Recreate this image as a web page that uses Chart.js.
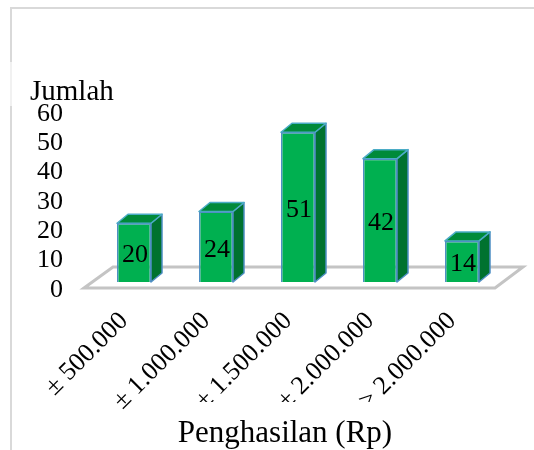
<!DOCTYPE html>
<html><head><meta charset="utf-8">
<style>
html,body{margin:0;padding:0;background:#fff;overflow:hidden}
#frame{position:absolute;left:10px;top:7px;width:524px;height:443px;border-left:2px solid #d9d9d9;border-top:2px solid #d9d9d9;box-sizing:border-box}
#fade{position:absolute;left:10px;top:62px;width:2px;height:44px;background:#f1f1f1}
#wrap{position:absolute;left:0;top:0;width:534px;height:450px}
</style>
<script src="https://cdn.jsdelivr.net/npm/chart.js@4"></script>
</head><body>
<div id="frame"></div><div id="fade"></div>
<div id="wrap"><canvas id="c" width="534" height="450"></canvas></div>
<script>
const categories = ['± 500.000','± 1.000.000','± 1.500.000','± 2.000.000','> 2.000.000'];
const jumlah = [20,24,51,42,14];
const yTicks = [0,10,20,30,40,50,60];
const yTitle = 'Jumlah';
const xTitle = 'Penghasilan (Rp)';
const FONT = '"Liberation Serif","Times New Roman",serif';

const box3d = {
  id:'box3d',
  beforeDatasetsDraw(chart){
    const {ctx,chartArea:a,scales:{y}}=chart;
    const y0=y.getPixelForValue(0);
    ctx.save();
    ctx.strokeStyle='#c4c4c4';ctx.lineWidth=3;ctx.lineJoin='miter';
    ctx.beginPath();
    ctx.moveTo(a.left-9,y0+6);ctx.lineTo(a.left+20,y0-15);
    ctx.lineTo(a.right+20,y0-15);ctx.lineTo(a.right-8,y0+6);ctx.closePath();
    ctx.fillStyle='#ffffff';ctx.fill();ctx.stroke();
    const dx=11,dy=9;
    chart.getDatasetMeta(0).data.forEach(b=>{
      const w=b.width/2,l=b.x-w,r=b.x+w,t=b.y,bt=b.base;
      ctx.lineWidth=1.5;ctx.strokeStyle='#4f8fc4';ctx.lineJoin='round';
      ctx.fillStyle='#00722f';
      ctx.beginPath();ctx.moveTo(r,t);ctx.lineTo(r+dx,t-dy);ctx.lineTo(r+dx,bt-dy);ctx.lineTo(r,bt);ctx.closePath();ctx.fill();ctx.stroke();
      ctx.fillStyle='#008a3a';ctx.strokeStyle='#4bacc6';
      ctx.beginPath();ctx.moveTo(l,t);ctx.lineTo(l+dx,t-dy);ctx.lineTo(r+dx,t-dy);ctx.lineTo(r,t);ctx.closePath();ctx.fill();ctx.stroke();
    });
    ctx.restore();
  },
  afterDatasetsDraw(chart){
    const {ctx}=chart;
    ctx.save();
    ctx.font='26px '+FONT;ctx.fillStyle='#000';ctx.textAlign='center';ctx.textBaseline='middle';
    chart.getDatasetMeta(0).data.forEach((b,i)=>{
      ctx.fillText(String(jumlah[i]),b.x+1,(b.y+b.base)/2+3);
    });
    ctx.restore();
  },
  afterDraw(chart){
    // the reference crops the feet of the last three tick labels
    const {ctx,chartArea:a}=chart;
    ctx.save();ctx.fillStyle='#fff';
    ctx.fillRect(a.left+87,402,a.width-87,18);
    ctx.restore();
  }
};

new Chart(document.getElementById('c'),{
  type:'bar',
  data:{labels:categories,datasets:[{data:jumlah,backgroundColor:'#00b050',borderColor:'#4f8fc4',borderWidth:1.5,barPercentage:0.83,categoryPercentage:0.5}]},
  plugins:[box3d],
  options:{
    responsive:false,animation:false,
    layout:{padding:{left:30,right:31,top:0,bottom:0}},
    plugins:{
      legend:{display:false},tooltip:{enabled:false},
      title:{display:true,text:yTitle,align:'start',color:'#000',font:{family:FONT,size:29,weight:'normal'},padding:{top:75,bottom:-4}}
    },
    scales:{
      y:{min:0,max:60,
        afterFit(s){s.width=63;},
        afterBuildTicks(s){s.ticks=yTicks.map(v=>({value:v}));},
        grid:{display:false},border:{display:false},
        ticks:{color:'#000',font:{family:FONT,size:26},labelOffset:8,padding:22,autoSkip:false}
      },
      x:{
        afterFit(s){s.height=168;},
        afterUpdate(s){
          const d=s.drawTitle.bind(s);
          s.drawTitle=()=>{const l=s.left,r=s.right;s.left-=13;s.right-=13;d();s.left=l;s.right=r;};
        },
        grid:{display:false},border:{display:false},
        ticks:{color:'#000',font:{family:FONT,size:26},maxRotation:45,minRotation:45,padding:16,labelOffset:-10,autoSkip:false},
        title:{display:true,text:xTitle,color:'#000',font:{family:FONT,size:31},padding:{top:0,bottom:-2}}
      }
    }
  }
});
</script>
</body></html>
